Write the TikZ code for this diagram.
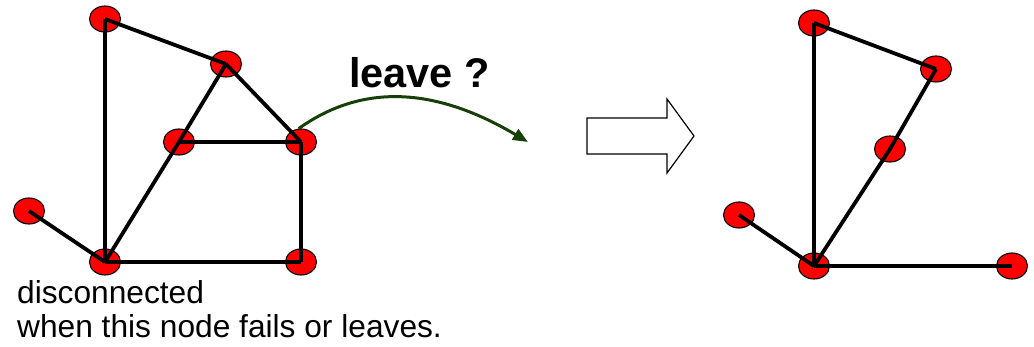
\documentclass[tikz,border=0pt]{standalone}
\usepackage{fontspec}
\setmainfont{Liberation Sans}
\usepackage{tikz}
\usetikzlibrary{shapes.geometric,arrows.meta}
\definecolor{leavegreen}{RGB}{22,64,8}

\begin{document}
\begin{tikzpicture}[x=1pt,y=-1pt,
        peer/.style={draw, ellipse, fill=red, line width=1.1pt, minimum width=31pt, minimum height=26pt, inner sep=0pt},
        link/.style={line width=3.8pt}]
        \useasboundingbox (0,0) rectangle (1034,346);

        % Overlay before the node leaves
        \node[peer] (u1) at (105,19) {};
        \node[peer] (u2) at (226,64) {};
        \node[peer] (u3) at (179,142) {};
        \node[peer] (u4) at (301,142) {};
        \node[peer] (u5) at (29,211) {};
        \node[peer] (u6) at (105,262) {};
        \node[peer] (u7) at (301,262) {};

        % Links before
        \draw[link] (u1.center) -- (u6.center);
        \draw[link] (u1.center) -- (u2.center);
        \draw[link] (u2.center) -- (u4.center);
        \draw[link] (u2.center) -- (u3.center) -- (u6.center);
        \draw[link] (u3.center) -- (u4.center);
        \draw[link] (u4.center) -- (u7.center);
        \draw[link] (u6.center) -- (u7.center);
        \draw[link] (u5.center) -- (u6.center);

        % Leaving node
        \node[anchor=base west, inner sep=0pt, font=\fontsize{41.5}{48}\selectfont\bfseries] (leave) at (349,87) {leave ?};
        \coordinate (away) at (528,142);
        \draw[leavegreen, line width=3pt, -{Triangle[length=15pt,width=12pt]}]
            (u4.100) .. controls (350,92) and (420,78) .. (away);

        % Label
        \node[anchor=base west, inner sep=0pt, align=left, font=\fontsize{31.7}{34}\selectfont] (note) at (17,337)
            {disconnected\\when this node fails or leaves.};

        % Block arrow
        \draw[line width=1.2pt, fill=white] (587,118) -- (667,118) -- (667,99) -- (694,136)
            -- (667,173) -- (667,154) -- (587,154) -- cycle;

        % Overlay after the node left
        \node[peer] (v1) at (814,23) {};
        \node[peer] (v2) at (936,69) {};
        \node[peer] (v3) at (890,149) {};
        \node[peer] (v4) at (739,215) {};
        \node[peer] (v5) at (814,266) {};
        \node[peer] (v6) at (1012,266) {};

        % Links after
        \draw[link] (v1.center) -- (v5.center);
        \draw[link] (v1.center) -- (v2.center);
        \draw[link] (v2.center) -- (v3.center) -- (v5.center);
        \draw[link] (v4.center) -- (v5.center);
        \draw[link] (v5.center) -- (v6.center);
\end{tikzpicture}
\end{document}
